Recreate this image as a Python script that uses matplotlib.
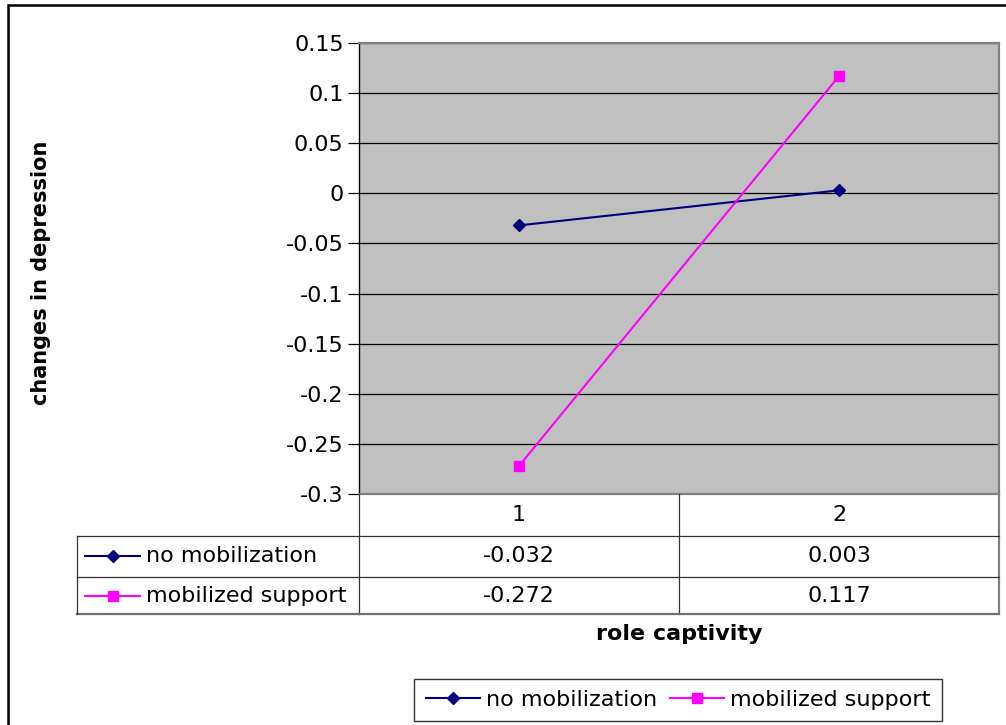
import matplotlib.pyplot as plt
from matplotlib.lines import Line2D
import matplotlib.transforms as mtransforms

# data
categories = ["1", "2"]
series_names = ["no mobilization", "mobilized support"]
no_mobilization = [-0.032, 0.003]
mobilized_support = [-0.272, 0.117]
yticks = [-0.3, -0.25, -0.2, -0.15, -0.1, -0.05, 0, 0.05, 0.1, 0.15]

W, H = 1006, 725
FS = 16

def fx(px):
    return px / W

def fy(py):
    return 1 - py / H

fig = plt.figure(figsize=(W / 100, H / 100), dpi=100)

# outer chart frame (only left and top edges are inside the picture)
fig.add_artist(Line2D([fx(8), fx(8), fx(1010)], [fy(730), fy(5), fy(5)],
                      transform=fig.transFigure, color="black", linewidth=1.8,
                      solid_joinstyle="miter"))

ax = fig.add_axes([fx(359), fy(494), fx(999 - 359), (494 - 43) / H])
ax.set_facecolor("#c0c0c0")

xs = list(range(1, len(categories) + 1))
series = [no_mobilization, mobilized_support]
colors = ["#000080", "#ff00ff"]
markers = ["D", "s"]
msizes = [6.5, 7]
handles = []
for vals, c, m, ms, name in zip(series, colors, markers, msizes, series_names):
    h, = ax.plot(xs, vals, color=c, marker=m, markersize=ms, linewidth=1.5,
                 label=name, zorder=3)
    handles.append(h)

ax.set_xlim(0.5, len(categories) + 0.5)
ax.set_ylim(-0.3, 0.15)
ax.set_yticks(yticks)
ax.set_yticklabels([f"{t:g}" for t in yticks], fontsize=FS)
ax.set_xticks([])
ax.yaxis.grid(True, color="black", linewidth=0.9)
ax.set_axisbelow(True)
ax.tick_params(axis="y", length=8, width=0.9, pad=3)
for s in ["top", "right", "bottom"]:
    ax.spines[s].set_color("#808080")
    ax.spines[s].set_linewidth(1.6)
ax.spines["left"].set_color("black")
ax.spines["left"].set_linewidth(1.0)

fig.text(fx(41), fy(273), "changes in depression", rotation=90, fontsize=15,
         fontweight="bold", ha="center", va="center")

# data table under the axis
blend = mtransforms.blended_transform_factory(ax.transData, fig.transFigure)
lc = "#333333"
edges = [0.5 + i for i in range(len(categories) + 1)]
for e in edges[:-1]:
    fig.add_artist(Line2D([e, e], [fy(494), fy(614)], transform=blend,
                          color=lc, linewidth=0.9))
fig.add_artist(Line2D([edges[-1], edges[-1]], [fy(494), fy(614)], transform=blend,
                      color="#808080", linewidth=1.6))
for yy, lw, col in [(536, 0.9, lc), (577, 0.9, lc), (614, 1.6, "#707070")]:
    fig.add_artist(Line2D([fx(77), fx(359)], [fy(yy), fy(yy)],
                          transform=fig.transFigure, color=col, linewidth=lw))
    fig.add_artist(Line2D([0.5, edges[-1]], [fy(yy), fy(yy)], transform=blend,
                          color=col, linewidth=lw))
fig.add_artist(Line2D([fx(77), fx(77)], [fy(536), fy(614)],
                      transform=fig.transFigure, color=lc, linewidth=0.9))

for x, cat in zip(xs, categories):
    fig.text(x, fy(515), cat, transform=blend, fontsize=FS, ha="center", va="center")

row_y = [556, 596]
for r, (vals, c, m, ms, name) in enumerate(zip(series, colors, markers, msizes, series_names)):
    yy = fy(row_y[r])
    fig.add_artist(Line2D([fx(85), fx(140)], [yy, yy], transform=fig.transFigure,
                          color=c, linewidth=1.5))
    fig.add_artist(Line2D([fx(112.5)], [yy], transform=fig.transFigure, color=c,
                          marker=m, markersize=ms, linestyle="none"))
    fig.text(fx(146), yy, name, fontsize=FS, ha="left", va="center")
    for x, v in zip(xs, vals):
        fig.text(x, yy, f"{v:.3f}", transform=blend, fontsize=FS,
                 ha="center", va="center")

fig.text(fx(679), fy(634), "role captivity", fontsize=FS, fontweight="bold",
         ha="center", va="center")

leg = fig.legend(handles=handles, loc="center", bbox_to_anchor=(fx(678), fy(700)),
                 ncol=2, fontsize=FS, frameon=True, fancybox=False,
                 edgecolor="black", handlelength=2.45, handletextpad=0.25,
                 columnspacing=0.6, borderpad=0.5, borderaxespad=0)
leg.get_frame().set_linewidth(1.0)

fig.savefig("out.png", dpi=100)
